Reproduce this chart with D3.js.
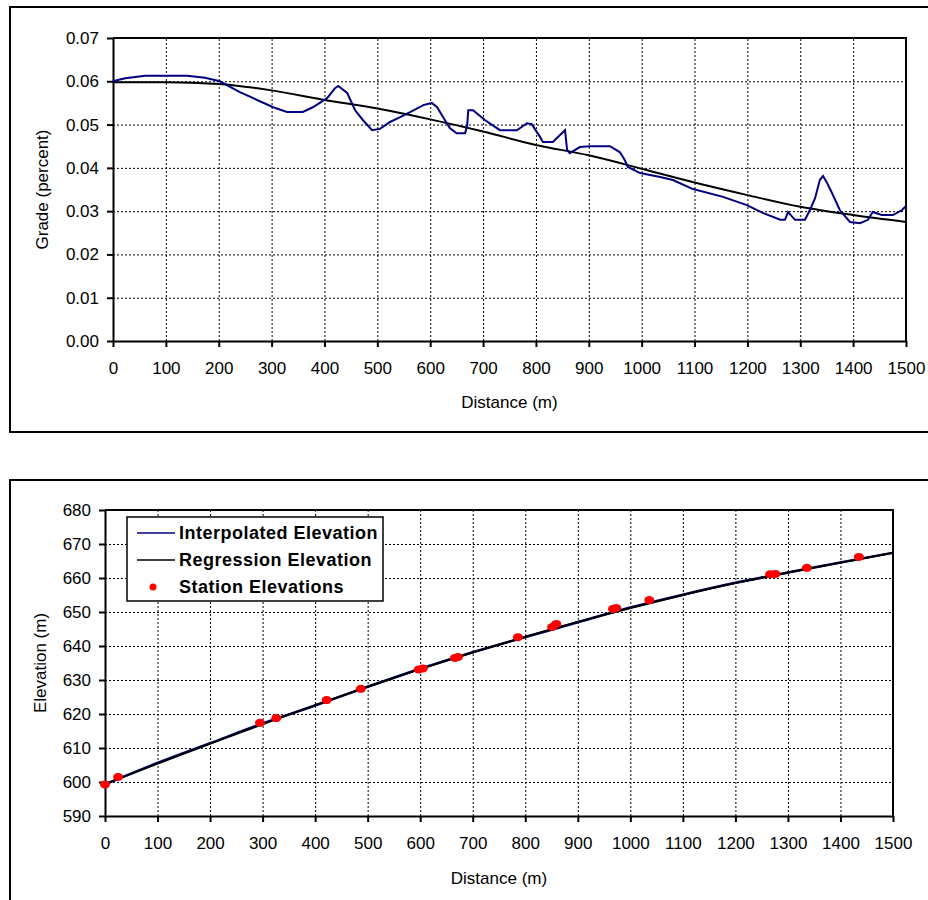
<!DOCTYPE html>
<html>
<head>
<meta charset="utf-8">
<script src="https://cdn.jsdelivr.net/npm/d3@7"></script>
<style>
  body { margin: 0; background: #fff; }
  svg { font-family: "Liberation Sans", Arial, sans-serif; }
  .grid line { stroke: #000; stroke-dasharray: 2,2; stroke-width: 1; }
  .grid path { display: none; }
  .axis path, .axis line { stroke: #000; stroke-width: 2; }
  .axis text { font-size: 17px; fill: #000; }
  .title { font-size: 17px; fill: #000; }
  .legend text { font-size: 18px; font-weight: bold; letter-spacing: 0.5px; }
</style>
</head>
<body>
<svg id="chart" width="928" height="900"></svg>
<script>
// grade chart: interpolated grade (blue) and regression grade (black)
const GRADE_DIST = [0, 23, 61, 140, 174, 202, 240, 303, 329, 359, 378, 405, 420, 426, 443, 458, 473, 490, 505,
  524, 543, 562, 587, 603, 613, 622, 637, 650, 666, 670, 672, 681, 704, 732, 764, 783, 792, 808, 813, 832,
  849, 855, 859, 864, 883, 902, 940, 959, 968, 974, 997, 1035, 1059, 1097, 1154, 1199, 1229, 1262, 1271,
  1277, 1290, 1309, 1318, 1328, 1337, 1343, 1350, 1360, 1375, 1394, 1413, 1428, 1437, 1454, 1475, 1492, 1500];
const GRADE_VALUES = [0.0600, 0.0607, 0.0613, 0.0613, 0.0608, 0.0600, 0.0575, 0.0540, 0.0529, 0.0529, 0.0540,
  0.0561, 0.0584, 0.0589, 0.0573, 0.0533, 0.0510, 0.0487, 0.0490, 0.0506, 0.0517, 0.0529, 0.0545, 0.0550,
  0.0540, 0.0522, 0.0492, 0.0480, 0.0480, 0.0499, 0.0533, 0.0533, 0.0510, 0.0487, 0.0487, 0.0503, 0.0501,
  0.0471, 0.0460, 0.0460, 0.0480, 0.0487, 0.0441, 0.0434, 0.0448, 0.0450, 0.0450, 0.0436, 0.0418, 0.0402,
  0.0388, 0.0379, 0.0372, 0.0351, 0.0333, 0.0314, 0.0296, 0.0280, 0.0280, 0.0298, 0.0280, 0.0280, 0.0302,
  0.0330, 0.0372, 0.0381, 0.0367, 0.0342, 0.0302, 0.0275, 0.0272, 0.0280, 0.0298, 0.0291, 0.0291, 0.0302, 0.0312];
const REG_DIST = [0, 100, 200, 300, 400, 500, 600, 700, 800, 900, 1000, 1100, 1200, 1300, 1400, 1500];
const REG_GRADE = [0.0598, 0.0598, 0.0594, 0.0579, 0.0557, 0.0537, 0.0512, 0.0484, 0.0453, 0.0429,
  0.0398, 0.0366, 0.0337, 0.0310, 0.0291, 0.0275];
const GRADE_TICKS = [0, 0.01, 0.02, 0.03, 0.04, 0.05, 0.06, 0.07];

// elevation chart
const REG_ELEV = [599.4, 605.4, 611.3, 617.0, 622.6, 628.0, 633.2, 638.1, 642.7, 647.1, 651.2, 655.0,
  658.5, 661.6, 664.5, 667.4];
const INTERP_ELEV = [599.3, 605.6, 611.4, 617.2, 622.5, 628.0, 633.3, 638.2, 642.6, 647.0, 651.3, 655.1,
  658.6, 661.6, 664.6, 667.4];
const STATION_DIST = [0, 25, 295, 326, 422, 487, 597, 605, 666, 672, 786, 851, 859, 967, 973, 1036, 1266, 1276, 1336, 1435];
const STATION_ELEV = [599.3, 601.5, 617.4, 618.8, 624.1, 627.4, 633.1, 633.4, 636.5, 636.8, 642.6, 645.6,
  646.5, 650.9, 651.2, 653.5, 661.1, 661.2, 663.0, 666.2];
const ELEV_TICKS = [590, 600, 610, 620, 630, 640, 650, 660, 670, 680];
const DIST_TICKS = d3.range(0, 1501, 100);

const SVG = d3.select("#chart");

// outer frames
SVG.append("rect").attr("x", 10).attr("y", 7).attr("width", 930).attr("height", 425)
  .attr("fill", "none").attr("stroke", "#000").attr("stroke-width", 2);
SVG.append("rect").attr("x", 10).attr("y", 480).attr("width", 930).attr("height", 440)
  .attr("fill", "none").attr("stroke", "#000").attr("stroke-width", 2);

function drawPanel(opts) {
  const x = d3.scaleLinear().domain([0, 1500]).range([opts.left, opts.right]);
  const y = d3.scaleLinear().domain(opts.yDomain).range([opts.bottom, opts.top]);
  const h = opts.bottom - opts.top;
  const w = opts.right - opts.left;
  const g = SVG.append("g");

  g.append("g").attr("class", "grid")
    .attr("transform", `translate(0,${opts.bottom})`)
    .call(d3.axisBottom(x).tickValues(DIST_TICKS).tickSize(-h).tickFormat(""));
  g.append("g").attr("class", "grid")
    .attr("transform", `translate(${opts.left},0)`)
    .call(d3.axisLeft(y).tickValues(opts.yTicks).tickSize(-w).tickFormat(""));

  g.append("g").attr("class", "axis")
    .attr("transform", `translate(0,${opts.bottom})`)
    .call(d3.axisBottom(x).tickValues(DIST_TICKS).tickSize(6).tickPadding(12).tickSizeOuter(0)
      .tickFormat(d3.format("d")))
    .call(a => a.selectAll("text").attr("dy", "0.9em"));
  g.append("g").attr("class", "axis")
    .attr("transform", `translate(${opts.left},0)`)
    .call(d3.axisLeft(y).tickValues(opts.yTicks).tickSize(6).tickPadding(8).tickSizeOuter(0)
      .tickFormat(opts.yFormat));

  // plot box top/right
  g.append("path")
    .attr("d", `M${opts.left},${opts.top}H${opts.right}V${opts.bottom}`)
    .attr("fill", "none").attr("stroke", "#000").attr("stroke-width", 2);

  g.append("text").attr("class", "title")
    .attr("x", (opts.left + opts.right) / 2).attr("y", opts.xTitleY)
    .attr("text-anchor", "middle").text("Distance (m)");
  g.append("text").attr("class", "title")
    .attr("transform", `translate(${opts.yTitleX},${(opts.top + opts.bottom) / 2}) rotate(-90)`)
    .attr("text-anchor", "middle").text(opts.yTitle);

  return { g, x, y };
}

// top: grade
const TOP = drawPanel({
  left: 113, right: 906, top: 38, bottom: 341,
  yDomain: [0, 0.07], yTicks: GRADE_TICKS, yFormat: d3.format(".2f"),
  xTitleY: 408, yTitleX: 48, yTitle: "Grade (percent)"
});

const gradeLine = d3.line().x(d => TOP.x(d[0])).y(d => TOP.y(d[1]));
TOP.g.append("path")
  .datum(REG_DIST.map((d, i) => [d, REG_GRADE[i]]))
  .attr("d", d3.line().x(d => TOP.x(d[0])).y(d => TOP.y(d[1])).curve(d3.curveMonotoneX))
  .attr("fill", "none").attr("stroke", "#000").attr("stroke-width", 2);
TOP.g.append("path")
  .datum(GRADE_DIST.map((d, i) => [d, GRADE_VALUES[i]]))
  .attr("d", gradeLine)
  .attr("fill", "none").attr("stroke", "#000080").attr("stroke-width", 2);

// bottom: elevation
const BOT = drawPanel({
  left: 105, right: 893, top: 510, bottom: 816,
  yDomain: [590, 680], yTicks: ELEV_TICKS, yFormat: d3.format("d"),
  xTitleY: 884, yTitleX: 46, yTitle: "Elevation (m)"
});

const elevLine = d3.line().x(d => BOT.x(d[0])).y(d => BOT.y(d[1])).curve(d3.curveMonotoneX);
BOT.g.append("path")
  .datum(REG_DIST.map((d, i) => [d, INTERP_ELEV[i]]))
  .attr("d", elevLine)
  .attr("fill", "none").attr("stroke", "#000080").attr("stroke-width", 2.5);
BOT.g.append("path")
  .datum(REG_DIST.map((d, i) => [d, REG_ELEV[i]]))
  .attr("d", elevLine)
  .attr("fill", "none").attr("stroke", "#000").attr("stroke-width", 2);
BOT.g.selectAll("ellipse.station")
  .data(STATION_DIST.map((d, i) => [d, STATION_ELEV[i]]))
  .enter().append("ellipse")
  .attr("class", "station")
  .attr("cx", d => BOT.x(d[0])).attr("cy", d => BOT.y(d[1]))
  .attr("rx", 5).attr("ry", 4).attr("fill", "#ff0000");

// legend
const LEG = SVG.append("g").attr("class", "legend");
LEG.append("rect").attr("x", 127).attr("y", 517).attr("width", 256).attr("height", 84)
  .attr("fill", "#fff").attr("stroke", "#000").attr("stroke-width", 1.5);
const LEGEND_ITEMS = [
  { label: "Interpolated Elevation", type: "line", color: "#000080" },
  { label: "Regression Elevation", type: "line", color: "#000" },
  { label: "Station Elevations", type: "dot", color: "#ff0000" }
];
LEGEND_ITEMS.forEach((item, i) => {
  const yy = 533 + i * 27;
  if (item.type === "line") {
    LEG.append("line").attr("x1", 137).attr("x2", 175).attr("y1", yy).attr("y2", yy)
      .attr("stroke", item.color).attr("stroke-width", 1.5);
  } else {
    LEG.append("circle").attr("cx", 153).attr("cy", yy).attr("r", 3.5).attr("fill", item.color);
  }
  LEG.append("text").attr("x", 179).attr("y", yy).attr("dy", "0.35em").text(item.label);
});
</script>
</body>
</html>
